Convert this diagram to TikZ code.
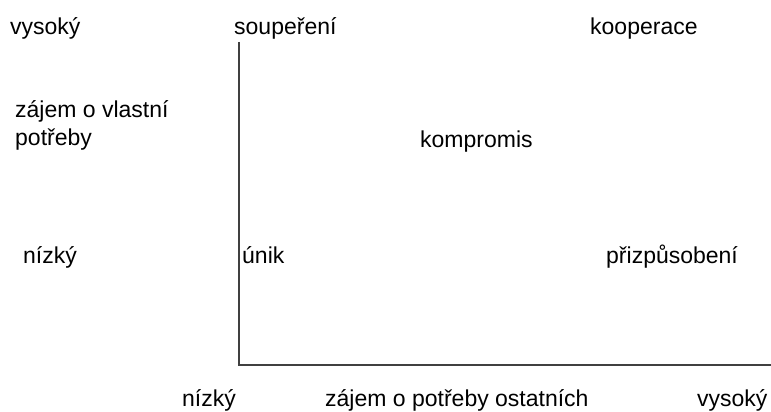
\documentclass[tikz,border=0pt]{standalone}
\usepackage{fontspec}
\setmainfont{Liberation Sans}
\begin{document}
\begin{tikzpicture}[x=1pt,y=-1pt,
  lbl/.style={anchor=base west,inner sep=0pt,font=\fontsize{23}{28}\selectfont}]
\useasboundingbox (0,0) rectangle (771,412);
\coordinate (O) at (239,365);
\coordinate (T) at (239,42);
\coordinate (R) at (771,365);
\draw[line width=1.1pt,black!75] (T)--(O)--(R);
\node[lbl] (vysokyY) at (10,35) {vysoký};
\node[lbl,align=left] (zajemY) at (15,145) {zájem o vlastní\\potřeby};
\node[lbl] (nizkyY) at (23,263) {nízký};
\node[lbl] (soup) at (234,35) {soupeření};
\node[lbl] (koop) at (590,35) {kooperace};
\node[lbl] (komp) at (420,147) {kompromis};
\node[lbl] (unik) at (242,263) {únik};
\node[lbl] (prizp) at (606,263) {přizpůsobení};
\node[lbl] (nizkyX) at (182,406) {nízký};
\node[lbl] (zajemX) at (325,406) {zájem o potřeby ostatních};
\node[lbl] (vysokyX) at (697,406) {vysoký};
\end{tikzpicture}
\end{document}
